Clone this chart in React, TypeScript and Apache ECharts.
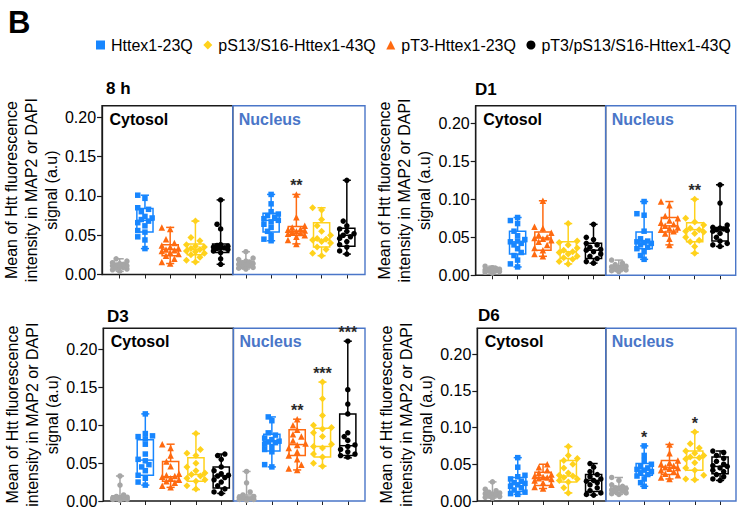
import React, { useEffect, useRef } from 'react';
import * as echarts from 'echarts';

// ---------------- data ----------------
const GROUPS = ['Control', 'Httex1-23Q', 'pT3-Httex1-23Q', 'pS13/S16-Httex1-43Q', 'pT3/pS13/S16-Httex1-43Q'];
const LEGEND_ORDER = ['Httex1-23Q', 'pS13/S16-Httex1-43Q', 'pT3-Httex1-23Q', 'pT3/pS13/S16-Httex1-43Q'];
const COMPARTMENTS = ['Cytosol', 'Nucleus'];
const PANEL_TITLES = ['8 h', 'D1', 'D3', 'D6'];
const Y_TICKS = [0, 0.05, 0.1, 0.15, 0.2];
const Y_MAX = [0.215, 0.223, 0.228, 0.235];
const Y_NAME = 'Mean of Htt fluorescence\nintensity in MAP2 or DAPI\nsignal (a.u)';

// box summaries: [min, Q1, median, Q3, max], categories 0-4 cytosol, 5-9 nucleus
const BOX_8H = [
  [0.004, 0.008, 0.011, 0.014, 0.020], [0.033, 0.054, 0.069, 0.084, 0.101], [0.014, 0.024, 0.032, 0.038, 0.060],
  [0.016, 0.025, 0.032, 0.039, 0.068], [0.013, 0.028, 0.034, 0.039, 0.095],
  [0.007, 0.010, 0.013, 0.017, 0.029], [0.043, 0.054, 0.069, 0.078, 0.102], [0.039, 0.050, 0.055, 0.061, 0.102],
  [0.024, 0.035, 0.044, 0.066, 0.085], [0.026, 0.036, 0.050, 0.059, 0.120],
];
const BOX_D1 = [
  [0.003, 0.005, 0.007, 0.009, 0.012], [0.011, 0.028, 0.044, 0.058, 0.076], [0.025, 0.033, 0.049, 0.057, 0.098],
  [0.015, 0.022, 0.031, 0.044, 0.068], [0.016, 0.022, 0.033, 0.042, 0.067],
  [0.005, 0.007, 0.010, 0.013, 0.020], [0.021, 0.035, 0.044, 0.057, 0.097], [0.040, 0.057, 0.065, 0.076, 0.097],
  [0.029, 0.044, 0.060, 0.069, 0.100], [0.038, 0.045, 0.060, 0.063, 0.119],
];
const BOX_D3 = [
  [0.001, 0.002, 0.004, 0.007, 0.033], [0.021, 0.034, 0.054, 0.081, 0.115], [0.018, 0.026, 0.032, 0.052, 0.075],
  [0.015, 0.026, 0.035, 0.057, 0.089], [0.010, 0.017, 0.033, 0.045, 0.062],
  [0.001, 0.002, 0.004, 0.008, 0.039], [0.045, 0.066, 0.0785, 0.088, 0.111], [0.041, 0.060, 0.0745, 0.094, 0.108],
  [0.046, 0.058, 0.072, 0.096, 0.157], [0.057, 0.060, 0.073, 0.115, 0.211],
];
const BOX_D6 = [
  [0.004, 0.006, 0.009, 0.012, 0.026], [0.009, 0.013, 0.024, 0.032, 0.059], [0.017, 0.021, 0.032, 0.039, 0.050],
  [0.011, 0.026, 0.034, 0.055, 0.074], [0.008, 0.013, 0.028, 0.036, 0.051],
  [0.009, 0.011, 0.016, 0.020, 0.032], [0.020, 0.035, 0.042, 0.051, 0.075], [0.030, 0.036, 0.046, 0.055, 0.077],
  [0.029, 0.042, 0.059, 0.068, 0.094], [0.028, 0.037, 0.047, 0.060, 0.068],
];

const POINTS_8H = [
  [0.004, 0.006, 0.007, 0.008, 0.009, 0.010, 0.011, 0.011, 0.012, 0.013, 0.014, 0.015, 0.017, 0.020],
  [0.101, 0.097, 0.085, 0.083, 0.080, 0.074, 0.072, 0.070, 0.068, 0.066, 0.062, 0.056, 0.054, 0.048, 0.044, 0.033],
  [0.060, 0.058, 0.045, 0.040, 0.037, 0.035, 0.033, 0.032, 0.031, 0.030, 0.028, 0.026, 0.024, 0.020, 0.016, 0.014],
  [0.068, 0.047, 0.043, 0.038, 0.036, 0.035, 0.033, 0.032, 0.030, 0.029, 0.027, 0.025, 0.022, 0.018, 0.016],
  [0.095, 0.064, 0.058, 0.038, 0.037, 0.036, 0.035, 0.034, 0.034, 0.033, 0.032, 0.030, 0.028, 0.020, 0.013],
  [0.029, 0.021, 0.019, 0.017, 0.016, 0.015, 0.014, 0.013, 0.012, 0.011, 0.010, 0.009, 0.008, 0.007],
  [0.102, 0.090, 0.080, 0.077, 0.075, 0.073, 0.071, 0.069, 0.067, 0.064, 0.060, 0.055, 0.050, 0.045, 0.043],
  [0.102, 0.073, 0.062, 0.060, 0.058, 0.057, 0.056, 0.055, 0.054, 0.053, 0.052, 0.050, 0.048, 0.044, 0.039],
  [0.085, 0.082, 0.070, 0.062, 0.055, 0.050, 0.046, 0.045, 0.044, 0.042, 0.040, 0.035, 0.032, 0.027, 0.024],
  [0.120, 0.068, 0.062, 0.058, 0.055, 0.052, 0.050, 0.048, 0.046, 0.042, 0.038, 0.035, 0.030, 0.026],
];
const POINTS_D1 = [
  [0.012, 0.010, 0.009, 0.008, 0.008, 0.007, 0.007, 0.006, 0.006, 0.005, 0.004, 0.003],
  [0.076, 0.072, 0.068, 0.058, 0.052, 0.047, 0.045, 0.044, 0.042, 0.040, 0.035, 0.030, 0.026, 0.020, 0.015, 0.011],
  [0.098, 0.064, 0.062, 0.056, 0.053, 0.050, 0.049, 0.048, 0.046, 0.044, 0.040, 0.036, 0.033, 0.028, 0.025],
  [0.068, 0.045, 0.043, 0.040, 0.036, 0.033, 0.031, 0.030, 0.028, 0.025, 0.023, 0.021, 0.018, 0.015],
  [0.067, 0.050, 0.047, 0.042, 0.040, 0.037, 0.034, 0.033, 0.031, 0.028, 0.025, 0.022, 0.018, 0.016],
  [0.020, 0.016, 0.014, 0.012, 0.011, 0.010, 0.009, 0.008, 0.007, 0.006, 0.005],
  [0.097, 0.081, 0.079, 0.058, 0.048, 0.045, 0.044, 0.043, 0.042, 0.040, 0.037, 0.035, 0.031, 0.026, 0.021],
  [0.097, 0.092, 0.078, 0.075, 0.072, 0.069, 0.067, 0.065, 0.063, 0.062, 0.060, 0.058, 0.055, 0.048, 0.040],
  [0.100, 0.075, 0.070, 0.066, 0.062, 0.060, 0.058, 0.057, 0.055, 0.050, 0.046, 0.044, 0.038, 0.029],
  [0.119, 0.095, 0.066, 0.063, 0.062, 0.061, 0.060, 0.059, 0.058, 0.055, 0.050, 0.045, 0.042, 0.040, 0.038],
];
const POINTS_D3 = [
  [0.033, 0.021, 0.008, 0.006, 0.005, 0.004, 0.004, 0.003, 0.003, 0.002, 0.002, 0.001],
  [0.115, 0.089, 0.086, 0.085, 0.082, 0.075, 0.062, 0.055, 0.053, 0.048, 0.045, 0.040, 0.034, 0.030, 0.025, 0.021],
  [0.075, 0.070, 0.060, 0.052, 0.046, 0.036, 0.034, 0.033, 0.032, 0.030, 0.028, 0.026, 0.024, 0.020, 0.018],
  [0.089, 0.068, 0.063, 0.060, 0.050, 0.045, 0.040, 0.037, 0.035, 0.033, 0.030, 0.028, 0.026, 0.020, 0.016],
  [0.062, 0.060, 0.055, 0.045, 0.040, 0.036, 0.034, 0.033, 0.031, 0.028, 0.025, 0.020, 0.016, 0.012, 0.010],
  [0.039, 0.024, 0.012, 0.008, 0.006, 0.005, 0.004, 0.003, 0.003, 0.002, 0.002, 0.001],
  [0.111, 0.106, 0.090, 0.087, 0.083, 0.081, 0.079, 0.078, 0.077, 0.075, 0.072, 0.068, 0.065, 0.048, 0.045],
  [0.108, 0.100, 0.094, 0.088, 0.085, 0.080, 0.076, 0.074, 0.070, 0.065, 0.060, 0.055, 0.048, 0.043, 0.041],
  [0.157, 0.135, 0.113, 0.100, 0.097, 0.095, 0.090, 0.085, 0.075, 0.072, 0.070, 0.062, 0.058, 0.050, 0.046],
  [0.211, 0.147, 0.128, 0.115, 0.090, 0.085, 0.080, 0.074, 0.072, 0.068, 0.065, 0.062, 0.060, 0.058],
];
const POINTS_D6 = [
  [0.026, 0.016, 0.014, 0.012, 0.011, 0.010, 0.009, 0.008, 0.007, 0.006, 0.005, 0.004],
  [0.059, 0.046, 0.035, 0.033, 0.030, 0.027, 0.025, 0.024, 0.022, 0.020, 0.018, 0.015, 0.012, 0.010, 0.009],
  [0.050, 0.046, 0.042, 0.038, 0.036, 0.034, 0.033, 0.032, 0.031, 0.030, 0.028, 0.025, 0.022, 0.019, 0.017],
  [0.074, 0.062, 0.058, 0.055, 0.050, 0.045, 0.038, 0.035, 0.034, 0.032, 0.030, 0.028, 0.026, 0.018, 0.011],
  [0.051, 0.046, 0.040, 0.036, 0.033, 0.030, 0.028, 0.027, 0.025, 0.022, 0.018, 0.014, 0.011, 0.009, 0.008],
  [0.032, 0.028, 0.022, 0.020, 0.018, 0.017, 0.016, 0.015, 0.014, 0.013, 0.011, 0.010, 0.009],
  [0.075, 0.062, 0.055, 0.050, 0.047, 0.045, 0.043, 0.042, 0.040, 0.038, 0.036, 0.034, 0.030, 0.025, 0.020],
  [0.077, 0.065, 0.055, 0.052, 0.050, 0.048, 0.046, 0.045, 0.044, 0.042, 0.040, 0.037, 0.035, 0.032, 0.030],
  [0.094, 0.078, 0.072, 0.068, 0.065, 0.062, 0.060, 0.059, 0.057, 0.052, 0.045, 0.042, 0.035, 0.030, 0.029],
  [0.068, 0.066, 0.062, 0.058, 0.054, 0.050, 0.048, 0.047, 0.045, 0.042, 0.040, 0.036, 0.033, 0.030, 0.028],
];

// significance marks: panel index, category index, text
const STAR_PANEL = [0, 1, 2, 2, 2, 3, 3];
const STAR_CAT = [7, 8, 7, 8, 9, 6, 8];
const STAR_TEXT = ['**', '**', '**', '***', '***', '*', '*'];

const BOXES = [BOX_8H, BOX_D1, BOX_D3, BOX_D6];
const POINTS = [POINTS_8H, POINTS_D1, POINTS_D3, POINTS_D6];

// ---------------- style / layout ----------------
const FONT = '"Liberation Sans", Arial, Helvetica, sans-serif';
const COLORS = ['#a6a6a6', '#1786ff', '#ff6a10', '#ffd21c', '#000000'];
const SYMBOLS = ['circle', 'rect', 'triangle', 'diamond', 'circle'];
const SYMBOL_SIZES = [5.5, 5.5, 6.5, 7, 5.5];
const FRAME_COLORS = ['#1a1a1a', '#4a76c8'];
const LABEL_COLORS = ['#000000', '#4a76c8'];
const DIVIDER = 4.48;
const GRIDS = [
  { left: 101.7, top: 105.7, width: 263.3, height: 168.8, xMin: -0.7, xMax: 9.72, nameGap: 40 },
  { left: 475.7, top: 105.7, width: 260, height: 169.6, xMin: -0.656, xMax: 9.62, nameGap: 38.5 },
  { left: 103.3, top: 328.3, width: 261.7, height: 174.4, xMin: -0.66, xMax: 9.68, nameGap: 41 },
  { left: 477.3, top: 328.3, width: 258.7, height: 175, xMin: -0.6, xMax: 9.63, nameGap: 37.5 },
];
const TITLE_POS = [
  { left: 106, top: 80 },
  { left: 475, top: 81 },
  { left: 107, top: 308 },
  { left: 478, top: 307 },
];

// deterministic beeswarm offsets (layout only)
function swarm(values: number[], pxPerUnitY: number, bandPx: number, size: number): number[] {
  const order = values.map((_, i) => i).sort((a, b) => values[a] - values[b]);
  const placed: { x: number; y: number }[] = [];
  const out: number[] = new Array(values.length).fill(0);
  const step = size * 0.6;
  const cands = [0, -1, 1, -2, 2].map((k) => k * step);
  for (const i of order) {
    const y = values[i] * pxPerUnitY;
    let chosen = 0;
    let best = -1;
    for (const c of cands) {
      let minD = Infinity;
      for (const p of placed) minD = Math.min(minD, Math.hypot(p.x - c, p.y - y));
      if (minD >= size * 0.85) { chosen = c; best = minD; break; }
      if (minD > best) { best = minD; chosen = c; }
    }
    placed.push({ x: chosen, y });
    out[i] = chosen / bandPx;
  }
  return out;
}

function buildOption() {
  const grid: any[] = [];
  const xAxis: any[] = [];
  const yAxis: any[] = [];
  const series: any[] = [];
  const title: any[] = [
    { text: 'B', left: 8, top: 7, padding: 0, textStyle: { fontSize: 31, fontWeight: 'bold', color: '#000', fontFamily: FONT } },
  ];

  GRIDS.forEach((g, p) => {
    const yMax = Y_MAX[p];
    grid.push({ left: g.left, top: g.top, width: g.width, height: g.height, containLabel: false });
    title.push({
      text: PANEL_TITLES[p], left: TITLE_POS[p].left, top: TITLE_POS[p].top, padding: 0,
      textStyle: { fontSize: 17, fontWeight: 'bold', color: '#000', fontFamily: FONT },
    });
    xAxis.push({
      type: 'value', gridIndex: p, min: g.xMin, max: g.xMax, position: 'bottom',
      axisLine: { show: false, onZero: false },
      axisTick: { show: true, customValues: [0, 1, 2, 3, 4, 5, 6, 7, 8, 9], length: 4, lineStyle: { color: '#222', width: 1 } },
      axisLabel: { show: false },
      splitLine: { show: false },
    });
    yAxis.push({
      type: 'value', gridIndex: p, min: 0, max: yMax, position: 'left',
      name: Y_NAME, nameLocation: 'middle', nameGap: g.nameGap,
      nameTextStyle: { fontSize: 16, lineHeight: 20, color: '#000', fontFamily: FONT },
      axisLine: { show: true, onZero: false, lineStyle: { color: '#1a1a1a', width: 1.3 } },
      axisTick: { show: true, customValues: Y_TICKS, length: 5, lineStyle: { color: '#1a1a1a', width: 1.2 } },
      axisLabel: {
        customValues: Y_TICKS, formatter: (v: number) => v.toFixed(2),
        fontSize: 16, color: '#000', margin: 6, fontFamily: FONT,
      },
      splitLine: { show: false },
    });

    // frames + compartment labels
    series.push({
      type: 'custom', xAxisIndex: p, yAxisIndex: p, z: 1, silent: true,
      data: [[g.xMin, DIVIDER, 0], [DIVIDER, g.xMax, 1]],
      encode: { x: [0, 1] },
      renderItem: (params: any, api: any) => {
        const k = params.dataIndex;
        const a = api.coord([api.value(0), yMax]);
        const b = api.coord([api.value(1), 0]);
        return {
          type: 'group',
          children: [
            {
              type: 'rect',
              shape: { x: a[0], y: a[1], width: b[0] - a[0], height: b[1] - a[1] },
              style: { fill: 'none', stroke: FRAME_COLORS[k], lineWidth: 1.4 },
            },
            {
              type: 'text', x: a[0] + (k === 0 ? 7.5 : 6), y: a[1] + 13.5,
              style: {
                text: COMPARTMENTS[k], fill: LABEL_COLORS[k], fontSize: 16, fontWeight: 'bold',
                fontFamily: FONT, align: 'left', verticalAlign: 'middle',
              },
            },
          ],
        };
      },
    });

    // boxes
    series.push({
      type: 'custom', xAxisIndex: p, yAxisIndex: p, z: 2, silent: true,
      data: BOXES[p].map((b, c) => [c, ...b]),
      encode: { x: 0, y: [1, 2, 3, 4, 5] },
      renderItem: (params: any, api: any) => {
        const x = params.dataIndex;
        const col = COLORS[x % 5];
        const pts = [1, 2, 3, 4, 5].map((i) => api.coord([api.value(0), api.value(i)]));
        const cx = pts[0][0];
        const bw = api.size([1, 0])[0] * 0.64;
        const cw = bw * 0.5;
        const st = { stroke: col, lineWidth: 1.5, fill: 'none' };
        return {
          type: 'group',
          children: [
            { type: 'line', shape: { x1: cx, y1: pts[0][1], x2: cx, y2: pts[1][1] }, style: st },
            { type: 'line', shape: { x1: cx, y1: pts[3][1], x2: cx, y2: pts[4][1] }, style: st },
            { type: 'line', shape: { x1: cx - cw / 2, y1: pts[0][1], x2: cx + cw / 2, y2: pts[0][1] }, style: st },
            { type: 'line', shape: { x1: cx - cw / 2, y1: pts[4][1], x2: cx + cw / 2, y2: pts[4][1] }, style: st },
            { type: 'rect', shape: { x: cx - bw / 2, y: pts[3][1], width: bw, height: pts[1][1] - pts[3][1] }, style: st },
            { type: 'line', shape: { x1: cx - bw / 2, y1: pts[2][1], x2: cx + bw / 2, y2: pts[2][1] }, style: st },
          ],
        };
      },
    });

    // points
    const pxPerUnitY = g.height / yMax;
    const bandPx = g.width / (g.xMax - g.xMin);
    POINTS[p].forEach((vals, c) => {
      const gi = c % 5;
      const offs = swarm(vals, pxPerUnitY, bandPx, SYMBOL_SIZES[gi] + 0.5);
      series.push({
        type: 'scatter', name: GROUPS[gi], xAxisIndex: p, yAxisIndex: p, z: 3, silent: true,
        symbol: SYMBOLS[gi], symbolSize: SYMBOL_SIZES[gi],
        itemStyle: { color: COLORS[gi], opacity: 1 },
        data: vals.map((v, i) => [c + offs[i], v]),
      });
    });

    // significance stars
    const starIdx = STAR_PANEL.map((sp, i) => (sp === p ? i : -1)).filter((i) => i >= 0);
    if (starIdx.length) {
      series.push({
        type: 'custom', xAxisIndex: p, yAxisIndex: p, z: 4, silent: true,
        data: starIdx.map((i) => [STAR_CAT[i], BOXES[p][STAR_CAT[i]][4]]),
        encode: { x: 0, y: 1 },
        renderItem: (params: any, api: any) => {
          const pt = api.coord([api.value(0), api.value(1)]);
          return {
            type: 'text', x: pt[0], y: pt[1] - 8.5,
            style: {
              text: STAR_TEXT[starIdx[params.dataIndex]], fill: '#2a2a2a', fontSize: 16, fontWeight: 'bold',
              fontFamily: FONT, align: 'center', verticalAlign: 'middle',
            },
          };
        },
      });
    }
  });

  const icons = ['rect', 'diamond', 'triangle', 'circle'];
  return {
    animation: false,
    backgroundColor: '#ffffff',
    title,
    legend: {
      data: LEGEND_ORDER.map((n, i) => ({ name: n, icon: icons[i] })),
      left: 96, top: 37, padding: 0, itemGap: 10.5, itemWidth: 9, itemHeight: 9,
      selectedMode: false,
      textStyle: { fontSize: 16, color: '#000', fontFamily: FONT, padding: [0, 0, 0, 1] },
    },
    grid, xAxis, yAxis, series,
  };
}

export default function App() {
  const ref = useRef<HTMLDivElement>(null);
  useEffect(() => {
    if (!ref.current) return;
    const chart = echarts.init(ref.current, undefined, { renderer: 'svg' });
    chart.setOption(buildOption() as any);
    return () => chart.dispose();
  }, []);
  return (
    <div
      ref={ref}
      style={{ position: 'fixed', left: 0, top: 0, width: 737, height: 509, background: '#fff' }}
    />
  );
}
